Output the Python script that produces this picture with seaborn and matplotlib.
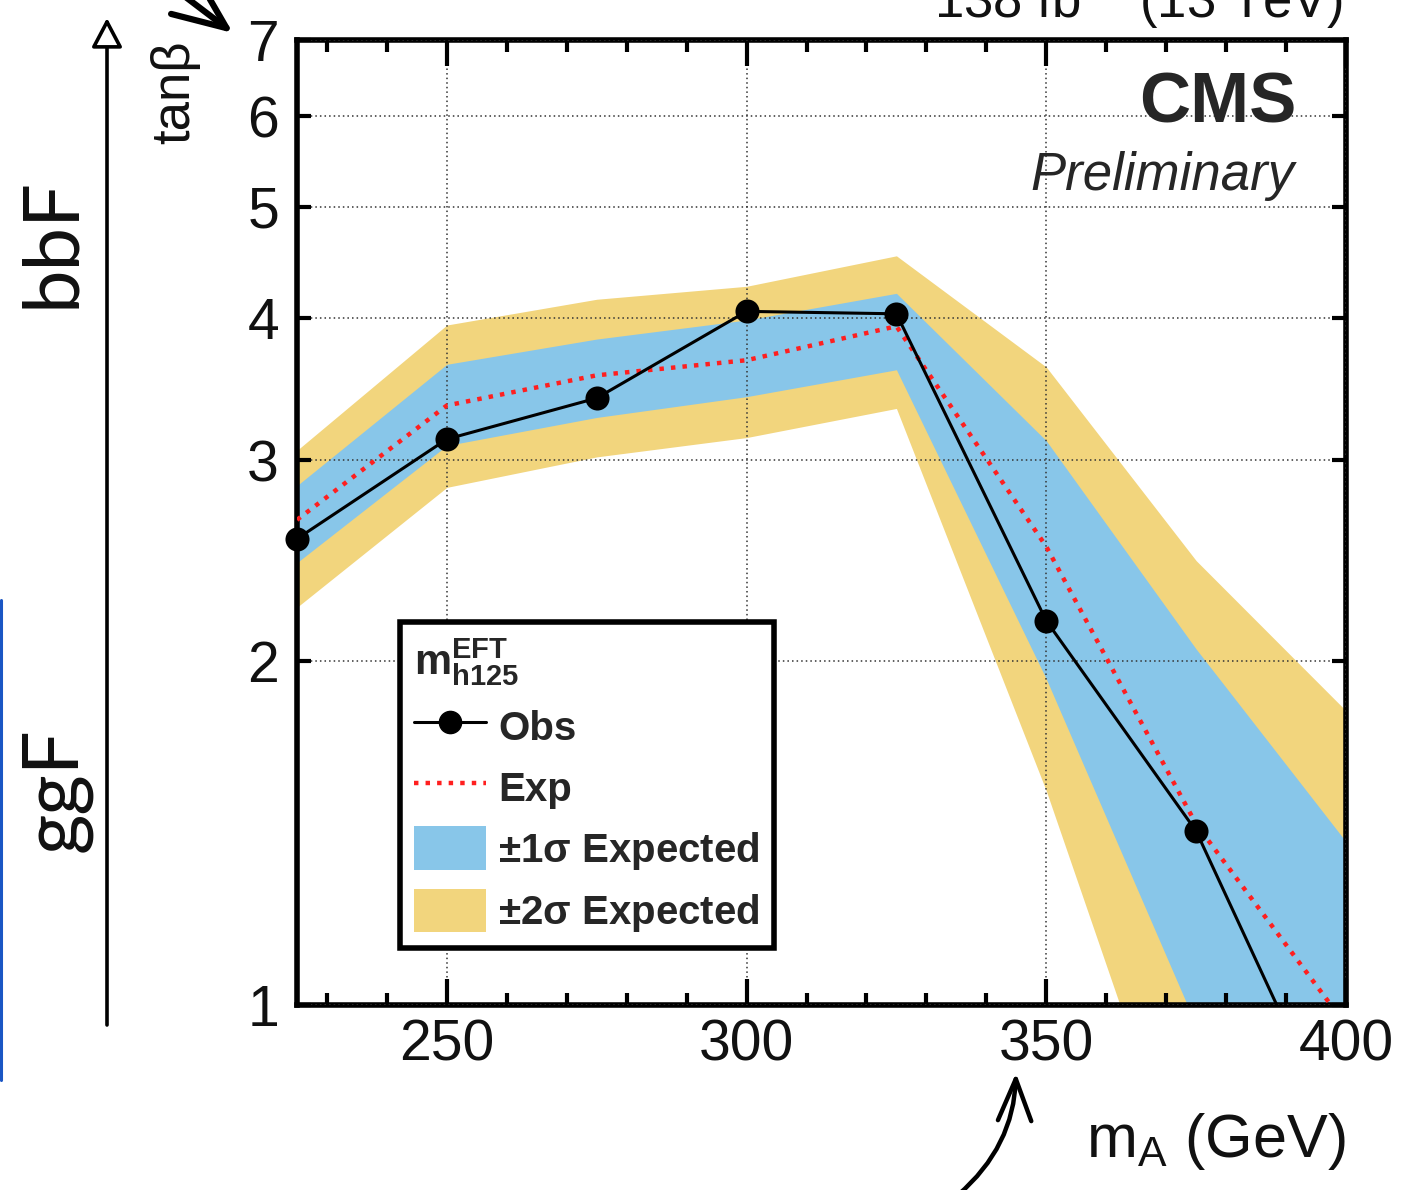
import matplotlib
matplotlib.use("Agg")
import matplotlib.pyplot as plt
import matplotlib.ticker as mticker
from matplotlib.lines import Line2D
from matplotlib.patches import Patch, FancyArrowPatch
import numpy as np
import pandas as pd
import seaborn as sns

# Upper limits on tan(beta) versus m_A, m_h125^EFT scenario
mass = [225, 250, 275, 300, 325, 350, 375, 400]
observed = [2.56, 3.13, 3.40, 4.05, 4.03, 2.17, 1.42, 0.74]
expected = [2.66, 3.35, 3.56, 3.67, 3.93, 2.52, 1.44, 0.96]
band1_lo = [2.44, 3.09, 3.27, 3.41, 3.60, 1.93, 0.96, 0.70]
band1_hi = [2.85, 3.64, 3.83, 3.98, 4.20, 3.12, 2.05, 1.39]
band2_lo = [2.23, 2.84, 3.02, 3.14, 3.33, 1.54, 0.64, 0.45]
band2_hi = [3.06, 3.94, 4.15, 4.26, 4.53, 3.62, 2.45, 1.81]

x_ticks = [250, 300, 350, 400]
y_ticks = [1, 2, 3, 4, 5, 6, 7]
y_labels = ["1", "2", "3", "4", "5", "6", "7"]

df = pd.DataFrame({
    "mass": mass, "obs": observed, "exp": expected,
    "lo1": band1_lo, "hi1": band1_hi, "lo2": band2_lo, "hi2": band2_hi,
})

BLUE = "#88C6E9"
YELLOW = "#F2D57D"
RED = "#FF1F1F"

sns.set_theme(style="ticks")
plt.rcParams["font.family"] = ["Liberation Sans", "DejaVu Sans"]
plt.rcParams["mathtext.fontset"] = "custom"
plt.rcParams["mathtext.rm"] = "Liberation Sans"
plt.rcParams["mathtext.it"] = "Liberation Sans:italic"
plt.rcParams["mathtext.bf"] = "Liberation Sans:bold"
plt.rcParams["mathtext.default"] = "regular"

W, H = 1422, 1190
fig = plt.figure(figsize=(W / 100, H / 100), dpi=100)


def fx(px):
    return px / W


def fy(py):
    return 1 - py / H


ax = fig.add_axes([fx(297), fy(1005), fx(1346) - fx(297), fy(40) - fy(1005)])
ax.set_yscale("log")
ax.set_xlim(225, 400)
ax.set_ylim(1, 7)

# Expected bands
ax.fill_between(df["mass"], df["lo2"], df["hi2"], color=YELLOW, lw=0, zorder=1)
ax.fill_between(df["mass"], df["lo1"], df["hi1"], color=BLUE, lw=0, zorder=1.1)

# Expected limit
sns.lineplot(data=df, x="mass", y="exp", ax=ax, color=RED, lw=3.2,
             errorbar=None, legend=False, zorder=3)
ax.get_lines()[-1].set_dashes((1, 1.6))

# Observed limit
sns.lineplot(data=df, x="mass", y="obs", ax=ax, color="black", lw=2.2,
             errorbar=None, legend=False, zorder=4)
sns.scatterplot(data=df[df["obs"] >= 1], x="mass", y="obs", ax=ax,
                color="black", s=300, edgecolor="black", linewidth=0,
                legend=False, zorder=5, clip_on=False)

# Axes styling
ax.set_xticks(x_ticks)
ax.set_xticklabels([str(v) for v in x_ticks])
ax.xaxis.set_minor_locator(mticker.MultipleLocator(10))
ax.set_yticks(y_ticks)
ax.set_yticklabels(y_labels)
ax.yaxis.set_minor_locator(mticker.NullLocator())
ax.tick_params(which="both", direction="in", top=True, right=True,
               width=3, color="black", labelsize=41, labelcolor="#111111")
ax.tick_params(axis="x", which="major", length=19, pad=10)
ax.tick_params(axis="x", which="minor", length=8.5)
ax.tick_params(axis="y", which="major", length=10, pad=13)
for sp in ax.spines.values():
    sp.set_linewidth(4)
    sp.set_color("black")
ax.set_axisbelow(False)
ax.grid(True, which="major", linestyle=(0, (1, 2)), color="#333333", lw=1.1)
ax.set_xlabel("")
ax.set_ylabel("")

fig.text(fx(1346), fy(1157), r"m$_\mathregular{A}$ (GeV)", ha="right",
         va="baseline", fontsize=44, color="#111111")
fig.text(fx(175), fy(92), "tanβ", rotation=90, ha="center", va="center",
         fontsize=38, color="#111111")
fig.text(fx(1343), fy(18), r"138 fb$^{-1}$ (13 TeV)", ha="right",
         va="baseline", fontsize=38, color="#111111")

ax.text(0.953, 0.914, "CMS", transform=ax.transAxes, ha="right",
        va="baseline", fontsize=51, fontweight="bold")
ax.text(0.951, 0.8446, "Preliminary", transform=ax.transAxes, ha="right",
        va="baseline", fontsize=38, style="italic")

# Legend
handles = [
    Line2D([], [], color="black", lw=2.2, marker="o", markersize=16),
    Line2D([], [], color=RED, lw=3.2, dashes=(1, 1.6)),
    Patch(facecolor=BLUE, edgecolor="none"),
    Patch(facecolor=YELLOW, edgecolor="none"),
]
labels = ["Obs", "Exp", r"$\pm1\sigma$ Expected", r"$\pm2\sigma$ Expected"]
leg = ax.legend(handles, labels, loc="lower left",
                bbox_to_anchor=(0.098, 0.059), borderaxespad=0,
                title=r"$\mathbf{m}^{\mathbf{EFT}}_{\mathbf{h125}}$",
                alignment="left", frameon=True, fancybox=False,
                edgecolor="black", framealpha=1,
                prop={"weight": "bold", "size": 29}, title_fontsize=30,
                handlelength=1.8, handleheight=1.3, handletextpad=0.3,
                labelspacing=0.42, borderpad=0.35)
leg.get_frame().set_linewidth(4)
leg.set_zorder(10)

# Side annotations: production-mode arrow and labels
fig.add_artist(FancyArrowPatch(
    (fx(107), fy(1025)), (fx(107), fy(18)), transform=fig.transFigure,
    arrowstyle="-|>,head_length=18,head_width=9.5", mutation_scale=1,
    fc="white", ec="black", lw=2.6, shrinkA=0, shrinkB=0))
fig.text(fx(74), fy(243), "bbF", rotation=90, rotation_mode="anchor",
         ha="center", va="baseline", fontsize=56,
         family=["Lato", "DejaVu Sans"], fontweight="normal", color="#111111")
fig.text(fx(76), fy(790), "ggF", rotation=90, rotation_mode="anchor",
         ha="center", va="baseline", fontsize=56,
         family=["Lato", "DejaVu Sans"], fontweight="normal", color="#111111")
fig.add_artist(Line2D([fx(1.5), fx(1.5)], [fy(600), fy(1080)],
                      transform=fig.transFigure, color="#1A56C4", lw=2.2))

# Pointer arrows
fig.add_artist(FancyArrowPatch(
    (fx(150), fy(-30)), (fx(233), fy(33)), transform=fig.transFigure,
    arrowstyle="->,head_length=38,head_width=16", mutation_scale=1,
    color="black", lw=4.5, shrinkA=0, shrinkB=0, capstyle="round"))
fig.add_artist(FancyArrowPatch(
    (fx(958), fy(1195)), (fx(1016), fy(1073)), transform=fig.transFigure,
    arrowstyle="->,head_length=30,head_width=12", mutation_scale=1,
    connectionstyle="arc3,rad=0.22", color="black", lw=3.2,
    shrinkA=0, shrinkB=0))

fig.savefig("out.png", dpi=100)
